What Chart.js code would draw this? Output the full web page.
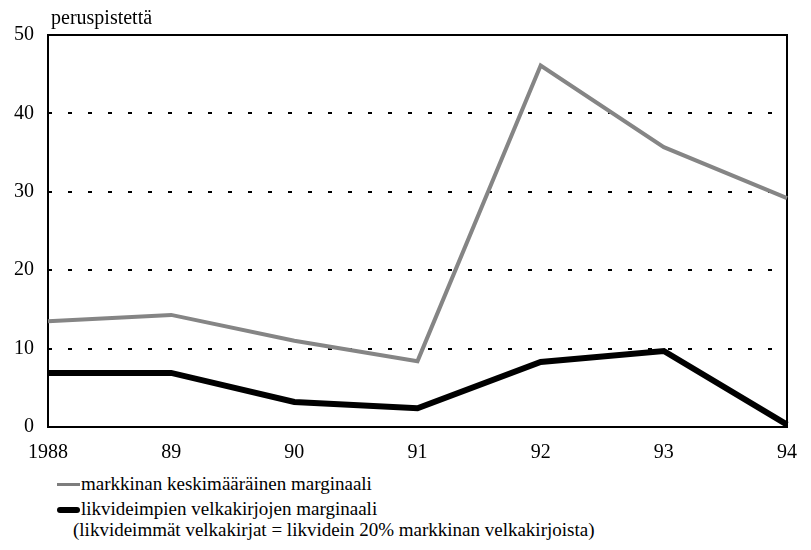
<!DOCTYPE html>
<html>
<head>
<meta charset="utf-8">
<script src="https://cdn.jsdelivr.net/npm/chart.js@4/dist/chart.umd.min.js"></script>
<style>
  body { margin: 0; background: #fff; font-family: 'Liberation Serif', serif; }
  #wrap { position: relative; width: 811px; height: 550px; }
  #box { position: absolute; left: 0; top: 0; width: 811px; height: 470px; }
  .row { position: absolute; left: 57px; font-size: 19px; color: #000; white-space: nowrap; line-height: 22px; }
  .mark { display: inline-block; width: 23px; vertical-align: middle; margin-right: 1px; position: relative; top: -1px; }
</style>
</head>
<body>
<div id="wrap">
  <div id="box"><canvas id="chart"></canvas></div>
  <div class="row" style="top:473px"><span class="mark" style="height:3px;background:#7d7d7d"></span>markkinan keskimääräinen marginaali</div>
  <div class="row" style="top:498px"><span class="mark" style="height:6px;background:#000;border-radius:3px"></span>likvideimpien velkakirjojen marginaali</div>
  <div class="row" style="top:519px;left:73px">(likvideimmät velkakirjat = likvidein 20% markkinan velkakirjoista)</div>
</div>
<script>
// Vuodet ja marginaalit (peruspistettä)
const vuodet = ['1988', '89', '90', '91', '92', '93', '94'];
const markkinaMarginaali = [13.5, 14.3, 11.0, 8.4, 46.1, 35.7, 29.2];
const likvidiMarginaali = [6.9, 6.9, 3.2, 2.4, 8.3, 9.7, 0.3];
const yTicks = [0, 10, 20, 30, 40, 50];

const fontti = 'Liberation Serif';

// Kehys ja yksikköteksti
const kehys = {
    id: 'kehys',
    beforeDatasetsDraw(chart) {
        const { ctx, chartArea: a } = chart;
        ctx.save();
        ctx.strokeStyle = '#000';
        ctx.lineWidth = 2;
        ctx.strokeRect(a.left, a.top, a.right - a.left, a.bottom - a.top);
        ctx.restore();
    },
    afterDraw(chart) {
        const { ctx, chartArea: a } = chart;
        ctx.save();
        ctx.font = '20px "' + fontti + '"';
        ctx.fillStyle = '#000';
        ctx.textBaseline = 'alphabetic';
        ctx.fillText('peruspistettä', a.left + 3, 24);
        ctx.restore();
    }
};

new Chart(document.getElementById('chart'), {
    type: 'line',
    data: {
        labels: vuodet,
        datasets: [
            {
                label: 'markkinan keskimääräinen marginaali',
                data: markkinaMarginaali,
                borderColor: '#858585',
                borderWidth: 4,
                pointRadius: 0,
                tension: 0
            },
            {
                label: 'likvideimpien velkakirjojen marginaali',
                data: likvidiMarginaali,
                borderColor: '#000',
                borderWidth: 6,
                pointRadius: 0,
                tension: 0
            }
        ]
    },
    options: {
        responsive: true,
        maintainAspectRatio: false,
        animation: false,
        layout: { padding: { top: 35, right: 12, left: 0, bottom: 0 } },
        plugins: {
            legend: { display: false },
            tooltip: { enabled: false }
        },
        scales: {
            x: {
                offset: false,
                grid: { display: false, drawTicks: false },
                border: { display: false },
                ticks: {
                    color: '#000',
                    font: { family: fontti, size: 20 },
                    padding: 14,
                    maxRotation: 0,
                    autoSkip: false
                },
                afterFit: s => { s.height = 43; }
            },
            y: {
                min: 0,
                max: 50,
                afterBuildTicks: s => { s.ticks = yTicks.map(v => ({ value: v })); },
                grid: {
                    drawTicks: false,
                    lineWidth: 2,
                    color: c => (c.tick.value === 0 || c.tick.value === 50) ? 'rgba(0,0,0,0)' : '#000'
                },
                border: { display: false, dash: [4, 16] },
                ticks: {
                    color: '#000',
                    font: { family: fontti, size: 20 },
                    padding: 14
                },
                afterFit: s => { s.width = 48; }
            }
        }
    },
    plugins: [kehys]
});
</script>
</body>
</html>
